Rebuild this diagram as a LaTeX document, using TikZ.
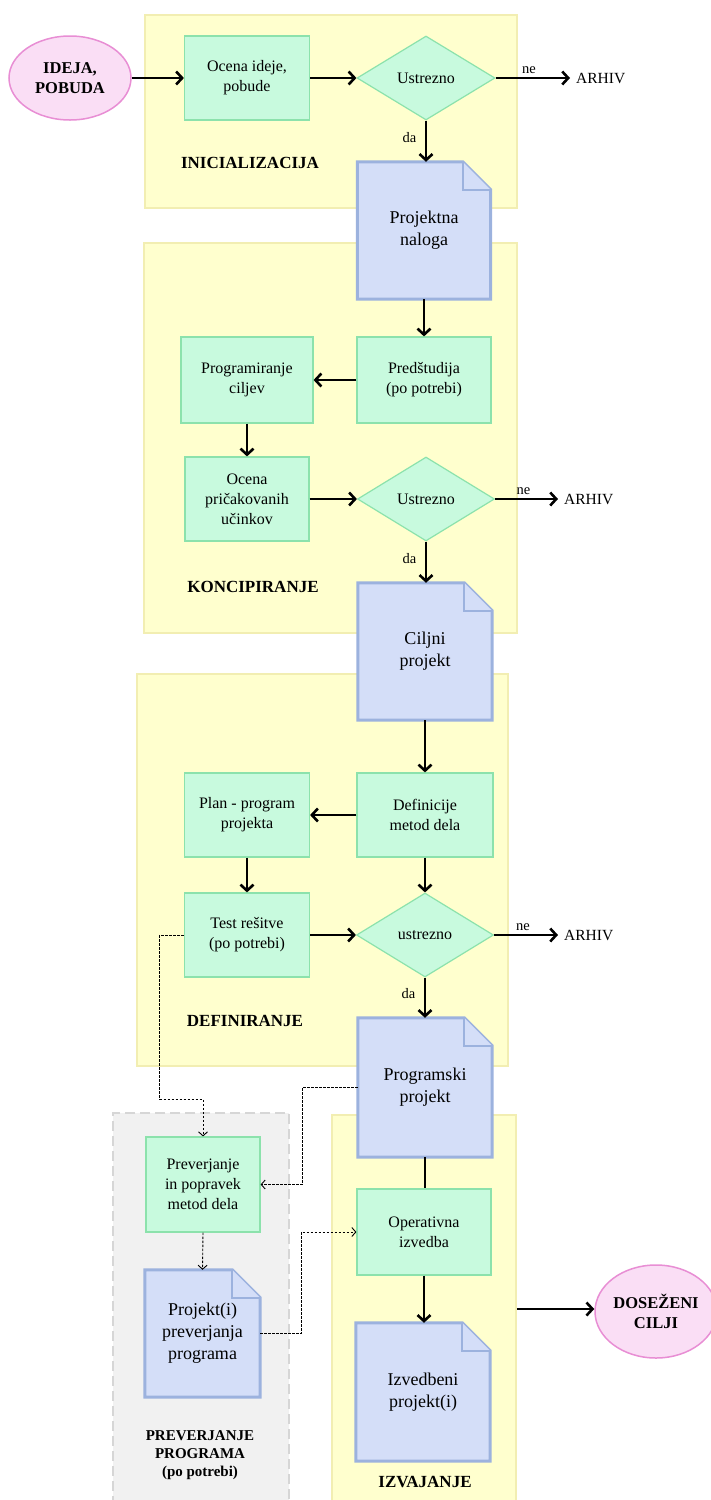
\documentclass[tikz,border=0pt]{standalone}
\usepackage{fontspec}
\setmainfont{Liberation Serif}
\usetikzlibrary{arrows.meta,shapes.geometric,calc}

\definecolor{yellowfill}{RGB}{255,255,206}
\definecolor{yellowline}{RGB}{242,238,178}
\definecolor{greenfill}{RGB}{200,250,222}
\definecolor{greenline}{RGB}{140,226,172}
\definecolor{bluefill}{RGB}{212,222,248}
\definecolor{blueline}{RGB}{156,178,222}
\definecolor{pinkfill}{RGB}{250,222,245}
\definecolor{pinkline}{RGB}{232,142,212}
\definecolor{greyfill}{RGB}{241,241,241}
\definecolor{greyline}{RGB}{214,214,214}

\pgfdeclarelayer{bands}
\pgfdeclarelayer{docs}
\pgfsetlayers{bands,docs,main}

% document shape: frame with a folded top-right corner, drawn under the node text
\newcommand\docframe[1]{%
  \begin{pgfonlayer}{docs}
    \draw[docline] (#1.north west) -- ($(#1.north east)+(-28,0)$)
      -- ($(#1.north east)+(0,28)$) -- (#1.south east) -- (#1.south west) -- cycle;
    \draw[docline,line width=2pt] ($(#1.north east)+(-28,0)$)
      -- ($(#1.north east)+(-28,28)$) -- ($(#1.north east)+(0,28)$);
  \end{pgfonlayer}}

\begin{document}
\begin{tikzpicture}[x=1pt,y=-1pt,
  txt/.style={font=\fontsize{16}{20}\selectfont, align=center},
  band/.style={fill=yellowfill, draw=yellowline, line width=1.5pt, inner sep=0},
  greyband/.style={fill=greyfill, draw=greyline, line width=1.2pt, dash pattern=on 10pt off 5pt, inner sep=0},
  proc/.style={txt, draw=greenline, fill=greenfill, line width=1.2pt, inner sep=0},
  decision/.style={txt, diamond, draw=greenline, fill=greenfill, line width=1.2pt, inner sep=0},
  doc/.style={font=\fontsize{18}{22}\selectfont, align=center, inner sep=0},
  docline/.style={draw=blueline, fill=bluefill, line width=3pt, line join=miter},
  term/.style={ellipse, draw=pinkline, fill=pinkfill, line width=1.5pt, inner sep=0,
    align=center, font=\fontsize{16.5}{20}\selectfont\bfseries},
  phase/.style={font=\fontsize{17}{19}\selectfont\bfseries, align=center},
  small/.style={font=\fontsize{14.5}{16}\selectfont},
  outlabel/.style={font=\fontsize{15.5}{18}\selectfont, inner sep=0},
  flow/.style={draw=black, line width=2.6pt, -{Straight Barb[length=6pt,width=13pt]}},
  plain/.style={draw=black, line width=2.6pt},
  hint/.style={draw=black, line width=0.9pt, dash pattern=on 2.5pt off 1.5pt,
    -{Straight Barb[length=4pt,width=9pt]}}]

\useasboundingbox (0,0) rectangle (710,1500);

% phase backgrounds
\begin{pgfonlayer}{bands}
  \node[band, minimum width=372, minimum height=193] (ini) at (331,111.5) {};
  \node[band, minimum width=373, minimum height=390] (kon) at (330.5,438) {};
  \node[band, minimum width=371, minimum height=392] (def) at (322.5,870) {};
  \node[band, minimum width=184, minimum height=388] (izv) at (424,1309) {};
  \node[greyband, minimum width=176, minimum height=390] (pre) at (201,1308) {};
\end{pgfonlayer}

% phase titles
\node[phase] (tini) at (250,163) {INICIALIZACIJA};
\node[phase] (tkon) at (253,587) {KONCIPIRANJE};
\node[phase] (tdef) at (245,1021) {DEFINIRANJE};
\node[phase, font=\fontsize{15}{18}\selectfont\bfseries] (tpre) at (200,1455) {PREVERJANJE\\PROGRAMA\\(po potrebi)};
\node[phase] (tizv) at (425,1482) {IZVAJANJE};

% start and end
\node[term, minimum width=122, minimum height=84] (ideja) at (70,78) {IDEJA,\\POBUDA};
\node[term, minimum width=122, minimum height=93] (cilj) at (656,1311.5) {DOSEŽENI\\CILJI};

% initialisation
\node[proc, minimum width=125, minimum height=84] (ocena) at (247,78) {Ocena ideje,\\pobude};
\node[decision, minimum width=138, minimum height=84] (d1) at (426,78) {Ustrezno};
\node[outlabel, anchor=west] (arh1) at (576,78) {ARHIV};
\node[doc, minimum width=133, minimum height=137] (nal) at (424,230.5) {Projektna\\naloga};
\docframe{nal}

% conception
\node[proc, minimum width=134, minimum height=86] (pred) at (424,380) {Predštudija\\(po potrebi)};
\node[proc, minimum width=132, minimum height=86] (prog) at (247,380) {Programiranje\\ciljev};
\node[proc, minimum width=124, minimum height=84] (ocuc) at (247,499) {Ocena\\pričakovanih\\učinkov};
\node[decision, minimum width=137, minimum height=84] (d2) at (426,499) {Ustrezno};
\node[outlabel, anchor=west] (arh2) at (564,499) {ARHIV};
\node[doc, minimum width=134, minimum height=137] (cp) at (425,651.5) {Ciljni\\projekt};
\docframe{cp}

% definition
\node[proc, minimum width=136, minimum height=84] (defm) at (425,815) {Definicije\\metod dela};
\node[proc, minimum width=125, minimum height=84] (plan) at (247,815) {Plan - program\\projekta};
\node[proc, minimum width=125, minimum height=84] (test) at (247,935) {Test rešitve\\(po potrebi)};
\node[decision, minimum width=137, minimum height=84] (d3) at (425,935) {ustrezno};
\node[outlabel, anchor=west] (arh3) at (564,935) {ARHIV};
\node[doc, minimum width=134, minimum height=139] (pp) at (425,1087.5) {Programski\\projekt};
\docframe{pp}

% programme verification
\node[proc, minimum width=114, minimum height=95] (prev) at (203,1184.5) {Preverjanje\\in popravek\\metod dela};
\node[doc, minimum width=115, minimum height=127] (ppr) at (202.5,1333.5) {Projekt(i)\\preverjanja\\programa};
\docframe{ppr}

% execution
\node[proc, minimum width=134, minimum height=86] (oper) at (424,1232) {Operativna\\izvedba};
\node[doc, minimum width=134, minimum height=138] (izp) at (423,1392) {Izvedbeni\\projekt(i)};
\docframe{izp}

% main flow
\draw[flow] (ideja) -- (ocena);
\draw[flow] (ocena) -- (d1);
\draw[flow] (d1) -- node[small, above, pos=0.45] {ne} ($(arh1.west)+(-6,0)$);
\draw[flow] (d1.south) -- node[small, left, pos=0.4, xshift=-5pt] {da} (d1.south |- nal.north);
\draw[flow] (nal.south) -- (pred.north);
\draw[flow] (pred) -- (prog);
\draw[flow] (prog) -- (ocuc);
\draw[flow] (ocuc) -- (d2);
\draw[flow] (d2) -- node[small, above, pos=0.45] {ne} ($(arh2.west)+(-6,0)$);
\draw[flow] (d2.south) -- node[small, left, pos=0.4, xshift=-5pt] {da} (d2.south |- cp.north);
\draw[flow] (cp.south) -- (defm.north);
\draw[flow] (defm) -- (plan);
\draw[flow] (plan) -- (test);
\draw[flow] (defm) -- (d3);
\draw[flow] (test) -- (d3);
\draw[flow] (d3) -- node[small, above, pos=0.45] {ne} ($(arh3.west)+(-6,0)$);
\draw[flow] (d3.south) -- node[small, left, pos=0.4, xshift=-5pt] {da} (d3.south |- pp.north);
\draw[plain] (pp.south) -- (pp.south |- oper.north);
\draw[flow] (oper.south) -- (oper.south |- izp.north);
\draw[flow] (izv.east) -- (izv.east -| cilj.west);

% optional verification loop
\draw[hint] (test.west) -- ++(-24,0) |- ($(prev.north)+(0,-37)$) -- (prev.north);
\draw[hint] (pp.west) -| ($(prev.east)+(42,0)$) -- (prev.east);
\draw[hint] (prev.south) -- (ppr.north);
\draw[hint] (ppr.east) -| ($(oper.west)+(-55,0)$) -- (oper.west);
\end{tikzpicture}
\end{document}
